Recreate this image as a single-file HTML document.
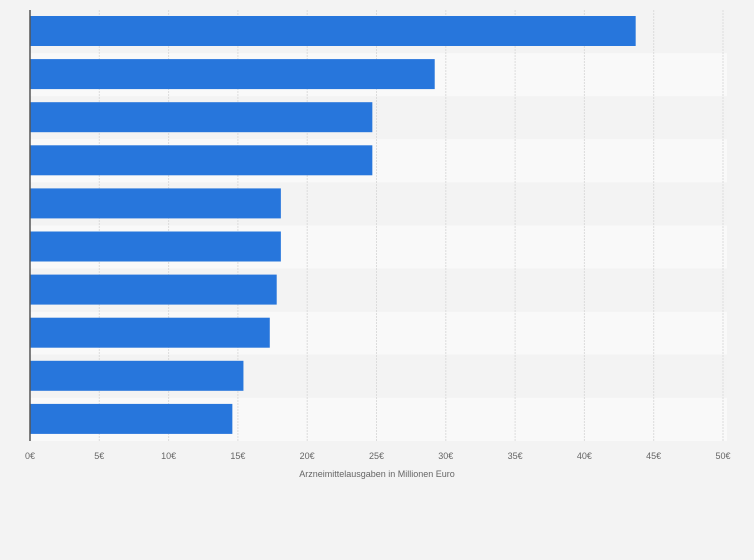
<!DOCTYPE html>
<html><head><meta charset="utf-8"><style>
body{margin:0;background:#f3f3f3;font-family:"Liberation Sans",sans-serif}
svg{display:block}
</style></head><body>
<svg id="c" width="754" height="560"></svg>
<script>
const categories=["1","2","3","4","5","6","7","8","9","10"];
const values=[43.7,29.2,24.7,24.7,18.1,18.1,17.8,17.3,15.4,14.6];
const ticks=[0,5,10,15,20,25,30,35,40,45,50];
const tickLabels=["0€","5€","10€","15€","20€","25€","30€","35€","40€","45€","50€"];
const NS="http://www.w3.org/2000/svg";
const svgEl=document.getElementById('c');
const x0=30,x1=723,plotTop=10,plotBottom=441;
const rowH=(plotBottom-plotTop)/categories.length;
const xs=v=>x0+(x1-x0)*v/50;
function el(t,a){const e=document.createElementNS(NS,t);for(const k in a)e.setAttribute(k,a[k]);svgEl.appendChild(e);return e;}
categories.forEach((c,i)=>{
  const r=el('rect',{x:x0,y:plotTop+i*rowH,width:727-x0,height:rowH,fill:i%2?'#f9f9f9':'#f3f3f3'});
  
  
});
ticks.forEach((t,i)=>{
  if(t>0){const g=el('line',{x1:xs(t),x2:xs(t),y1:plotTop,y2:plotBottom,stroke:'#dcdcdc','stroke-width':1,'stroke-dasharray':'2,1'});
  
  }
  const tx=el('text',{x:xs(t),y:459,'text-anchor':'middle','font-size':9,fill:'#666'});
  tx.textContent=tickLabels[i];
  
  
});
values.forEach((v,i)=>{
  const b=el('rect',{x:x0,y:plotTop+i*rowH+6,width:xs(v)-x0,height:30,fill:'#2776dc'});
  
  
});
const ax=el('line',{x1:x0,x2:x0,y1:plotTop,y2:plotBottom,stroke:'#555','stroke-width':1.5});


const tt=el('text',{x:377,y:477,'text-anchor':'middle','font-size':9,fill:'#666'});
tt.textContent='Arzneimittelausgaben in Millionen Euro';


</script>
</body></html>
